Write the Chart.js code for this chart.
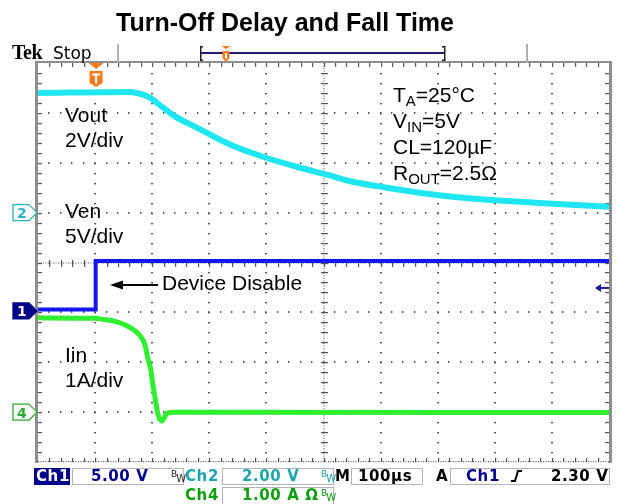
<!DOCTYPE html>
<html>
<head>
<meta charset="utf-8">
<script src="https://cdn.jsdelivr.net/npm/chart.js@4.4.0/dist/chart.umd.min.js"></script>
<style>
html,body{margin:0;padding:0;background:#fff;width:618px;height:504px;overflow:hidden}
#wrap{position:relative;width:618px;height:504px}
#c{position:absolute;left:0;top:0}
.lbl{position:absolute;white-space:nowrap;z-index:2}
.box{position:absolute;border:1px solid #b4b4b4;box-sizing:border-box;z-index:1}
</style>
</head>
<body>
<div id="wrap"><canvas id="c" width="618" height="504" style="width:618px;height:504px"></canvas></div>
<script>
// ---- data ----
// time base: 100 µs/div, trigger at t = 0 (one division from the left edge)
const timeGrid = [-100, 0, 100, 200, 300, 400, 500, 600, 700, 800, 900]; // µs, vertical graticule
const divGrid = [0, 1, 2, 3, 4, 5, 6, 7, 8];                                 // vertical divisions

// Ch2: Vout (2 V/div)
const voutTime  = [-100, 61, 84, 96, 105, 119, 140, 178, 236, 294, 353, 406, 451, 511, 568, 626, 686, 744, 801, 900];
const voutVolts = [4.80, 4.84, 4.73, 4.61, 4.46, 4.21, 3.86, 3.41, 2.73, 2.24, 1.84, 1.52, 1.24, 1.00, 0.80, 0.64, 0.52, 0.44, 0.36, 0.24];

// Ch1: Ven (5 V/div)
const venTime  = [-100, 1, 1, 900];
const venVolts = [0.15, 0.15, 5.0, 5.0];

// Ch4: Iin (1 A/div)
const iinTime = [-100, 0, 14, 35, 61, 78, 87, 92, 98, 101, 106, 110, 117, 126, 140, 900];
const iinAmps = [1.89, 1.88, 1.86, 1.82, 1.70, 1.54, 1.36, 1.10, 0.82, 0.56, 0.22, -0.04, -0.18, -0.02, 0.0, -0.01];

// channel settings (units per division, ground reference in divisions from bottom)
const ch1PerDiv = 5, ch1Ref = 3.03;
const ch2PerDiv = 2, ch2Ref = 5;
const ch4PerDiv = 1, ch4Ref = 1;
const triggerLevel = 2.30; // V on Ch1

// ---- helpers ----
const pts = (xs, ys) => xs.map((x, i) => ({x: x, y: ys[i]}));
const axisFor = (perDiv, ref) => ({type: 'linear', display: false, min: -ref * perDiv, max: (8 - ref) * perDiv});

const scopePlugin = {
  id: 'scope',
  beforeDatasetsDraw(chart) {
    const ctx = chart.ctx;
    const xs = chart.scales.x, yd = chart.scales.ydiv;
    const L = xs.getPixelForValue(timeGrid[0]);
    const R = xs.getPixelForValue(timeGrid[timeGrid.length - 1]);
    const T = yd.getPixelForValue(divGrid[divGrid.length - 1]);
    const B = yd.getPixelForValue(divGrid[0]);
    const dx = (R - L) / 10, dy = (B - T) / 8;
    ctx.save();
    ctx.fillStyle = '#fff';
    ctx.fillRect(L, T, R - L, B - T);
    ctx.fillStyle = '#555';
    // dotted graticule lines
    for (let i = 1; i < timeGrid.length - 1; i++) {
      if (i === 5) continue;
      const x = Math.round(xs.getPixelForValue(timeGrid[i]));
      for (let k = 1; k < 40; k++) ctx.fillRect(x - 1, Math.round(B - k * dy / 5), 2, 1.4);
    }
    for (let j = 1; j < divGrid.length - 1; j++) {
      if (j === 4) continue;
      const y = Math.round(yd.getPixelForValue(divGrid[j]));
      for (let k = 1; k < 50; k++) ctx.fillRect(Math.round(L + k * dx / 5) - 1, y - 1, 1.4, 2);
    }
    // centre lines: fine dots plus minor ticks
    const cx = Math.round(xs.getPixelForValue(timeGrid[5]));
    const cy = Math.round(yd.getPixelForValue(divGrid[4]));
    for (let y = T; y < B; y += 2.5) ctx.fillRect(cx - 0.5, y, 1, 1);
    for (let x = L; x < R; x += 2.5) ctx.fillRect(x, cy - 0.5, 1, 1);
    for (let k = 1; k < 40; k++) ctx.fillRect(cx - 3, Math.round(B - k * dy / 5), 7, 1.2);
    for (let k = 1; k < 50; k++) ctx.fillRect(Math.round(L + k * dx / 5), cy - 3, 1.2, 7);
    // edge ticks
    for (let k = 1; k < 50; k++) {
      const x = Math.round(L + k * dx / 5);
      ctx.fillRect(x, T, 1.2, 4);
      ctx.fillRect(x, B - 4, 1.2, 4);
    }
    for (let k = 1; k < 40; k++) {
      const y = Math.round(B - k * dy / 5);
      ctx.fillRect(L, y, 4, 1.2);
      ctx.fillRect(R - 4, y, 4, 1.2);
    }
    for (let x = L; x < R; x += 2.5) ctx.fillRect(x, B - 1, 1, 1.2);
    // frame
    ctx.fillStyle = '#8e8e8e';
    ctx.fillRect(L - 3, T - 2, 3, B - T + 3);
    ctx.fillRect(L - 3, T - 2, R - L + 6, 2);
    ctx.fillRect(R, T - 2, 3, B - T + 3);
    ctx.restore();
  },
  afterDraw(chart) {
    const ctx = chart.ctx;
    const xs = chart.scales.x;
    const T = chart.scales.ydiv.getPixelForValue(8);
    ctx.save();
    // header separators
    ctx.fillStyle = '#b0b0b0';
    ctx.fillRect(117, 44, 2, T - 44);
    ctx.fillRect(526, 44, 2, T - 44);
    // record view bar
    ctx.fillStyle = '#1a1a7a';
    ctx.fillRect(201, 52, 244, 2);
    ctx.fillStyle = '#222';
    ctx.fillRect(200, 46, 1.5, 15); ctx.fillRect(200, 46, 3, 1.5); ctx.fillRect(200, 59.5, 3, 1.5);
    ctx.fillRect(444, 46, 1.5, 15); ctx.fillRect(442, 46, 3, 1.5); ctx.fillRect(442, 59.5, 3, 1.5);
    const tMark = (x, y0, w, h, tri) => {
      ctx.fillStyle = '#f37b1d';
      ctx.beginPath();
      ctx.moveTo(x - w / 2, y0); ctx.lineTo(x + w / 2, y0); ctx.lineTo(x, y0 + tri); ctx.closePath(); ctx.fill();
      const b = y0 + tri + 2;
      ctx.beginPath();
      ctx.moveTo(x - w / 2 + 1, b); ctx.lineTo(x + w / 2 - 1, b); ctx.lineTo(x + w / 2 - 1, b + h - 4);
      ctx.lineTo(x, b + h); ctx.lineTo(x - w / 2 + 1, b + h - 4); ctx.closePath(); ctx.fill();
      ctx.fillStyle = '#fff';
      ctx.fillRect(x - w / 2 + 3.5, b + 2.5, w - 7, 2);
      ctx.fillRect(x - 1, b + 2.5, 2, h - 6);
    };
    tMark(226, 46, 9, 11, 3);
    tMark(xs.getPixelForValue(0) + 1, T, 15, 16, 6);
    // channel ground markers
    const marker = (yc, stroke, fill) => {
      ctx.beginPath();
      ctx.moveTo(13, yc - 8); ctx.lineTo(29, yc - 8); ctx.lineTo(37, yc); ctx.lineTo(29, yc + 8); ctx.lineTo(13, yc + 8); ctx.closePath();
      ctx.fillStyle = fill; ctx.fill();
      ctx.lineWidth = 1.3; ctx.strokeStyle = stroke; ctx.stroke();
    };
    marker(chart.scales.ych2.getPixelForValue(0), '#2ab3bb', '#fff');
    marker(chart.scales.ych1.getPixelForValue(0), '#000088', '#000088');
    marker(chart.scales.ych4.getPixelForValue(0), '#2caa2c', '#fff');
    // trigger level arrow (right edge)
    const ty = chart.scales.ych1.getPixelForValue(triggerLevel);
    const R = xs.getPixelForValue(timeGrid[timeGrid.length - 1]);
    ctx.fillStyle = '#1a1aa0';
    ctx.beginPath(); ctx.moveTo(R - 14, ty); ctx.lineTo(R - 8, ty - 4); ctx.lineTo(R - 8, ty + 4); ctx.closePath(); ctx.fill();
    ctx.fillRect(R - 9, ty - 1, 9, 2);
    // "Device Disable" arrow
    ctx.fillStyle = '#000';
    ctx.fillRect(120, 284, 38, 2);
    ctx.beginPath(); ctx.moveTo(110, 285); ctx.lineTo(123, 280.5); ctx.lineTo(123, 289.5); ctx.closePath(); ctx.fill();
    // trigger slope symbol
    ctx.strokeStyle = '#000'; ctx.lineWidth = 2;
    ctx.beginPath(); ctx.moveTo(511, 481); ctx.lineTo(515, 481); ctx.lineTo(518, 471); ctx.lineTo(522, 471); ctx.stroke();
    ctx.restore();
  }
};

new Chart(document.getElementById('c'), {
  type: 'line',
  data: {
    datasets: [
      {label: 'Vout', data: pts(voutTime, voutVolts), yAxisID: 'ych2', borderColor: '#20e6f2', borderWidth: 6,
       pointRadius: 0, cubicInterpolationMode: 'monotone', order: 3},
      {label: 'Ven', data: pts(venTime, venVolts), yAxisID: 'ych1', borderColor: '#1515ee', borderWidth: 4,
       pointRadius: 0, tension: 0, order: 2},
      {label: 'Iin', data: pts(iinTime, iinAmps), yAxisID: 'ych4', borderColor: '#30ee30', borderWidth: 5,
       pointRadius: 0, cubicInterpolationMode: 'monotone', order: 1}
    ]
  },
  options: {
    responsive: false, animation: false, devicePixelRatio: 1,
    layout: {padding: {left: 38, right: 9, top: 63, bottom: 42}},
    plugins: {legend: {display: false}, tooltip: {enabled: false}, title: {display: false}},
    scales: {
      x: {type: 'linear', display: false, min: timeGrid[0], max: timeGrid[timeGrid.length - 1]},
      ydiv: {type: 'linear', display: false, min: divGrid[0], max: divGrid[divGrid.length - 1]},
      ych1: axisFor(ch1PerDiv, ch1Ref),
      ych2: axisFor(ch2PerDiv, ch2Ref),
      ych4: axisFor(ch4PerDiv, ch4Ref)
    }
  },
  plugins: [scopePlugin]
});

// ---- text (real DOM text) ----
const METRICS = {'Liberation Sans': [0.905, 0.212], 'Liberation Serif': [0.891, 0.216], 'DejaVu Sans': [0.928, 0.236]};
const wrap = document.getElementById('wrap');
function label(html, x, baseline, o) {
  o = o || {};
  const fam = o.family || 'Liberation Sans', fs = o.size || 21;
  const m = METRICS[fam];
  const top = baseline - ((fs - (m[0] + m[1]) * fs) / 2 + m[0] * fs);
  const el = document.createElement('div');
  el.className = 'lbl';
  el.style.left = x + 'px';
  el.style.top = top + 'px';
  el.style.fontFamily = '"' + fam + '"';
  el.style.fontSize = fs + 'px';
  el.style.lineHeight = fs + 'px';
  el.style.fontWeight = o.weight || 'normal';
  el.style.color = o.color || '#000';
  if (o.ls) el.style.letterSpacing = o.ls + 'px';
  if (o.align === 'center') el.style.transform = 'translateX(-50%)';
  el.innerHTML = html;
  wrap.appendChild(el);
}
function box(x, y, w, h, fill) {
  const el = document.createElement('div');
  el.className = 'box';
  el.style.left = x + 'px'; el.style.top = y + 'px'; el.style.width = w + 'px'; el.style.height = h + 'px';
  if (fill) { el.style.background = fill; el.style.borderColor = fill; }
  wrap.appendChild(el);
}
const sub = t => '<span style="font-size:15px;position:relative;top:4px">' + t + '</span>';
const bw = c => '<span style="position:relative;font-size:9px;top:-5px;color:' + c + '">B</span><span style="font-size:10px;margin-left:-1px;color:' + c + '">W</span>';

label('Turn-Off Delay and Fall Time', 285, 31, {size: 25, weight: 'bold', align: 'center'});
label('Tek', 12, 59, {family: 'Liberation Serif', size: 20, weight: 'bold', ls: -0.5});
label('Stop', 53, 59, {family: 'DejaVu Sans', size: 17});

label('Vout', 65, 122);
label('2V/div', 65, 147);
label('Ven', 65, 218);
label('5V/div', 65, 243);
label('Device Disable', 162, 290);
label('Iin', 65, 362);
label('1A/div', 65, 387);
label('T' + sub('A') + '=25°C', 393, 102);
label('V' + sub('IN') + '=5V', 393, 128);
label('CL=120µF', 393, 154);
label('R' + sub('OUT') + '=2.5Ω', 393, 180);

// channel marker digits
label('2', 17, 218, {family: 'DejaVu Sans', size: 14, weight: 'bold', color: '#2ab3bb'});
label('1', 17, 316, {family: 'DejaVu Sans', size: 14, weight: 'bold', color: '#fff'});
label('4', 17, 418, {family: 'DejaVu Sans', size: 14, weight: 'bold', color: '#2caa2c'});

// status bar
const navy = '#00008c', teal = '#1ea6ae', green = '#0e9e0e';
box(34, 468, 36, 17, navy);
box(72, 468, 112, 17);
box(222, 468, 112, 17);
box(351, 468, 72, 17);
box(450, 468, 160, 17);
box(222, 487, 112, 18);
const sb = {family: 'DejaVu Sans', size: 15, weight: 'bold', ls: 0.6};
label('Ch1', 36, 482, Object.assign({}, sb, {color: '#fff'}));
label('5.00 V', 91, 482, Object.assign({}, sb, {color: navy}));
label(bw('#222'), 171, 482, {family: 'DejaVu Sans', size: 10});
label('Ch2', 185, 482, Object.assign({}, sb, {color: teal}));
label('2.00 V', 242, 482, Object.assign({}, sb, {color: teal}));
label(bw(teal), 321, 482, {family: 'DejaVu Sans', size: 10});
label('M', 335, 482, Object.assign({}, sb, {color: '#000'}));
label('100µs', 358, 482, Object.assign({}, sb, {color: '#000'}));
label('A', 436, 482, Object.assign({}, sb, {color: '#000'}));
label('Ch1', 466, 482, Object.assign({}, sb, {color: navy}));
label('2.30 V', 551, 482, Object.assign({}, sb, {color: '#000'}));
label('Ch4', 185, 501, Object.assign({}, sb, {color: green}));
label('1.00 A Ω', 242, 501, Object.assign({}, sb, {color: green}));
label(bw(green), 321, 501, {family: 'DejaVu Sans', size: 10});
</script>
</body>
</html>
